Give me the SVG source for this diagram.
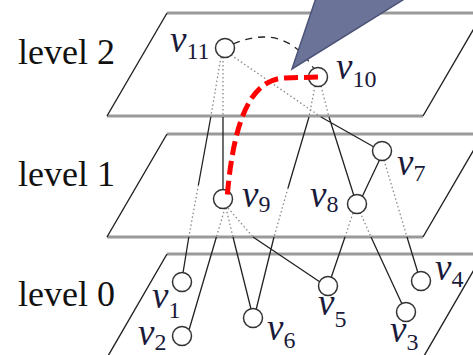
<svg xmlns="http://www.w3.org/2000/svg" width="473" height="355" viewBox="0 0 473 355">
<style>
.hz{stroke:#9a9a9a;stroke-width:3;fill:none}
.sl{stroke:#222;stroke-width:1.4;fill:none}
.d{stroke:#888;stroke-width:1.3;stroke-dasharray:1.5 2.5;fill:none}
.s{stroke:#222;stroke-width:1.3;fill:none}
.n{fill:#fff;stroke:#333;stroke-width:1.5}
.lv{font-family:'Liberation Serif','Times New Roman','DejaVu Serif',serif;font-size:36px;fill:#111}
.v{font-family:'Liberation Serif','Times New Roman','DejaVu Serif',serif;font-size:37px;font-style:italic;fill:#1a1a3a}
.sb{font-style:normal;font-size:24px}
</style>
<rect width="473" height="355" fill="#fff"/>
<g id="planes">
<g id="level2">
<path class="hz" d="M167,13 H483 M107,116 H423"/>
<path class="sl" d="M167,13 L107,116 M423,116 L483,13"/>
<text class="lv" x="18" y="64">level 2</text>
</g>
<g id="level1">
<path class="hz" d="M167,134 H483 M107,237 H423"/>
<path class="sl" d="M167,134 L107,237 M423,237 L483,134"/>
<text class="lv" x="18" y="186">level 1</text>
</g>
<g id="level0">
<path class="hz" d="M167,254 H483"/>
<path class="sl" d="M167,254 L108,356 M424,356 L483,254"/>
<text class="lv" x="18" y="306">level 0</text>
</g>
</g>
<g id="connectors">
<path class="s" d="M233,44 Q285,22 314,69" stroke-dasharray="7 6"/>
<path class="d" d="M223,57 L223,117 M221,57 L210.8,117 M231,55 L321,117 M315,86 L309,117 M321,86 L329,117 M198.4,185 L188.8,237 M288,188 L274,237 M225,208 L216.4,237 M226,208 L233,237 M228,208 L253,237 M353,213 L345,237 M360,212 L371,237 M384,160 L407,237"/>
<path class="s" d="M223,117 L223,190 M210.8,117 L198.4,185 M188.8,237 L183,273 M321,117 L374,147 M309,117 L288,188 M274,237 L256,310 M329,117 L354,196 M380,159 L362,197 M216.4,237 L189,330 M233,237 L251,309 M253,237 L320,282 M345,237 L331,278 M371,237 L402,304 M407,237 L418,273"/>
</g>
<g id="v11"><circle class="n" cx="225" cy="48" r="9.5"/><text class="v" x="170" y="52">v<tspan class="sb" dy="7">11</tspan></text></g>
<g id="v10"><circle class="n" cx="318" cy="77" r="9.5"/><text class="v" x="336" y="79">v<tspan class="sb" dy="8">10</tspan></text></g>
<g id="v9"><circle class="n" cx="223" cy="199" r="9.5"/><text class="v" x="242" y="207">v<tspan class="sb" dy="5">9</tspan></text></g>
<g id="v8"><circle class="n" cx="357" cy="204" r="9.5"/><text class="v" x="310" y="207">v<tspan class="sb" dy="5">8</tspan></text></g>
<g id="v7"><circle class="n" cx="382" cy="151" r="9.5"/><text class="v" x="397" y="175">v<tspan class="sb" dy="6">7</tspan></text></g>
<g id="v1"><circle class="n" cx="182" cy="282" r="9.5"/><text class="v" x="152" y="308">v<tspan class="sb" dy="10">1</tspan></text></g>
<g id="v2"><circle class="n" cx="182" cy="336" r="9.5"/><text class="v" x="138" y="345">v<tspan class="sb" dy="5">2</tspan></text></g>
<g id="v6"><circle class="n" cx="253" cy="318" r="9.5"/><text class="v" x="267" y="340">v<tspan class="sb" dy="8">6</tspan></text></g>
<g id="v5"><circle class="n" cx="328" cy="286" r="9.5"/><text class="v" x="318" y="315">v<tspan class="sb" dy="12">5</tspan></text></g>
<g id="v3"><circle class="n" cx="406" cy="312" r="9.5"/><text class="v" x="390" y="342">v<tspan class="sb" dy="8">3</tspan></text></g>
<g id="v4"><circle class="n" cx="421" cy="281" r="9.5"/><text class="v" x="435" y="280">v<tspan class="sb" dy="7">4</tspan></text></g>
<path id="path" d="M318,77 L285,78 C255,79 234,110 227,199" fill="none" stroke="#f00" stroke-width="5" stroke-dasharray="14 6"/>
<polygon id="pointer" points="292,69 316,-2 406,-2" fill="#6b7399" stroke="#4c5377" stroke-width="1.5"/>
</svg>
